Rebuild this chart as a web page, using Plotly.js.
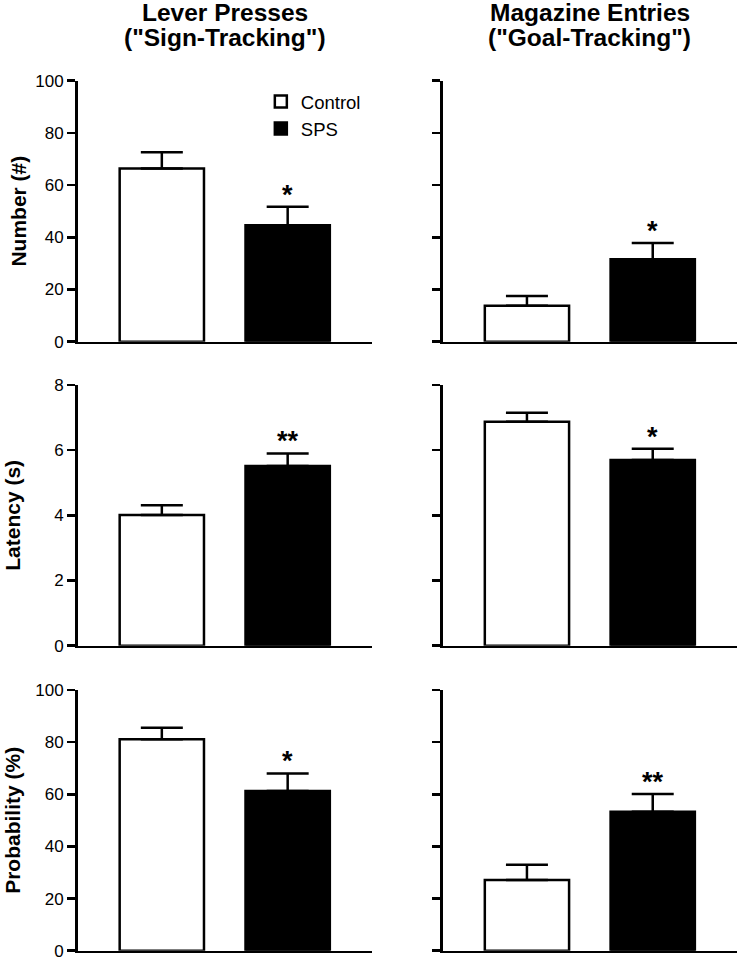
<!DOCTYPE html>
<html><head><meta charset="utf-8">
<script src="https://cdn.plot.ly/plotly-3.0.1.min.js"></script>
<style>html,body{margin:0;padding:0;background:#fff}</style>
</head><body><div id="chart" style="width:741px;height:960px"></div>
<script>
// ---- data ----
const groups = ['Control', 'SPS'];
const columnTitles = ['Lever Presses', 'Magazine Entries'];
const columnSubtitles = ['("Sign-Tracking")', '("Goal-Tracking")'];
const rowTitles = ['Number (#)', 'Latency (s)', 'Probability (%)'];

// means [Control, SPS] and SEM (upper error) [Control, SPS]
const leverNumber = [66.4, 44.6];
const leverNumberSem = [6.2, 7.1];
const magNumber = [13.8, 31.6];
const magNumberSem = [3.7, 6.2];

const leverLatency = [4.01, 5.51];
const leverLatencySem = [0.30, 0.39];
const magLatency = [6.87, 5.70];
const magLatencySem = [0.28, 0.34];

const leverProb = [81.1, 61.3];
const leverProbSem = [4.4, 6.7];
const magProb = [27.1, 53.3];
const magProbSem = [5.9, 6.8];

// significance markers above SPS bar, per row
const leverSig = ['*', '**', '*'];
const magSig = ['*', '*', '**'];

const yMax = [100, 8, 100];
const yStep = [20, 2, 20];

// ---- layout helpers ----
const FONT = 'Liberation Sans, Arial, Helvetica, sans-serif';
const colDomains = [[0.1046, 0.5020], [0.5974, 0.9946]];
const rowDomains = [[0.6441, 0.9159], [0.3274, 0.5990], [0.00969, 0.28125]];
const titleStandoff = [3, 28, 9];

const panels = [
  [[leverNumber, leverNumberSem, leverSig[0]], [magNumber, magNumberSem, magSig[0]]],
  [[leverLatency, leverLatencySem, leverSig[1]], [magLatency, magLatencySem, magSig[1]]],
  [[leverProb, leverProbSem, leverSig[2]], [magProb, magProbSem, magSig[2]]]
];

const fills = ['white', 'black'];
const traces = [];
const layout = {
  width: 741, height: 960,
  margin: {l: 0, r: 0, t: 0, b: 0},
  paper_bgcolor: 'white', plot_bgcolor: 'white',
  font: {family: FONT, color: 'black', size: 17},
  barmode: 'overlay',
  showlegend: true,
  legend: {x: 0.352, y: 0.9135, xanchor: 'left', yanchor: 'top',
           font: {family: FONT, size: 18.5, color: 'black'},
           bgcolor: 'rgba(0,0,0,0)', tracegroupgap: 0},
  annotations: []
};

for (let r = 0; r < 3; r++) {
  for (let c = 0; c < 2; c++) {
    const n = r * 2 + c + 1;
    const xa = n === 1 ? 'x' : 'x' + n;
    const ya = n === 1 ? 'y' : 'y' + n;
    const [means, sems, sig] = panels[r][c];
    for (let g = 0; g < 2; g++) {
      traces.push({
        type: 'bar', name: groups[g], legendgroup: groups[g],
        showlegend: n === 1,
        x: [groups[g]], y: [means[g]],
        xaxis: xa, yaxis: ya,
        width: 0.67,
        marker: {color: fills[g], line: {color: 'black', width: 2.5}},
        error_y: {type: 'data', symmetric: false, array: [sems[g]], arrayminus: [0],
                  color: 'black', thickness: 2.5, width: 21},
        hoverinfo: 'skip'
      });
    }
    layout['xaxis' + (n === 1 ? '' : n)] = {
      domain: colDomains[c], anchor: ya, type: 'category',
      categoryorder: 'array', categoryarray: groups,
      range: [-0.67, 1.67],
      showline: true, linecolor: 'black', linewidth: 2.5,
      ticks: '', showticklabels: false, showgrid: false, zeroline: false, fixedrange: true
    };
    const yax = {
      domain: rowDomains[r], anchor: xa,
      range: [0, yMax[r]], tick0: 0, dtick: yStep[r],
      showline: true, linecolor: 'black', linewidth: 2.5,
      ticks: 'outside', ticklen: 8, tickwidth: 2.5, tickcolor: 'black',
      showticklabels: c === 0, ticklabeloverflow: 'allow',
      tickfont: {family: FONT, size: 17, color: 'black'},
      showgrid: false, zeroline: false, fixedrange: true
    };
    if (c === 0) {
      yax.title = {text: rowTitles[r], standoff: titleStandoff[r],
                   font: {family: FONT, size: 21, color: 'black', weight: 'bold'}};
    }
    layout['yaxis' + (n === 1 ? '' : n)] = yax;

    layout.annotations.push({
      xref: xa, yref: ya, x: groups[1], y: means[1] + sems[1],
      text: sig, showarrow: false, xanchor: 'center', yanchor: 'bottom', yshift: -5,
      font: {family: FONT, size: 27, color: 'black', weight: 'bold'}
    });
  }
}

for (let c = 0; c < 2; c++) {
  const cx = (colDomains[c][0] + colDomains[c][1]) / 2;
  layout.annotations.push({
    xref: 'paper', yref: 'paper', x: cx, y: 0.98708, xanchor: 'center', yanchor: 'middle',
    text: columnTitles[c], showarrow: false,
    font: {family: FONT, size: 24.5, color: 'black', weight: 'bold'}
  });
  layout.annotations.push({
    xref: 'paper', yref: 'paper', x: cx, y: 0.96042, xanchor: 'center', yanchor: 'middle',
    text: columnSubtitles[c], showarrow: false,
    font: {family: FONT, size: 24.5, color: 'black', weight: 'bold'}
  });
}

Plotly.newPlot('chart', traces, layout, {staticPlot: true, displayModeBar: false});
</script>
</body></html>
